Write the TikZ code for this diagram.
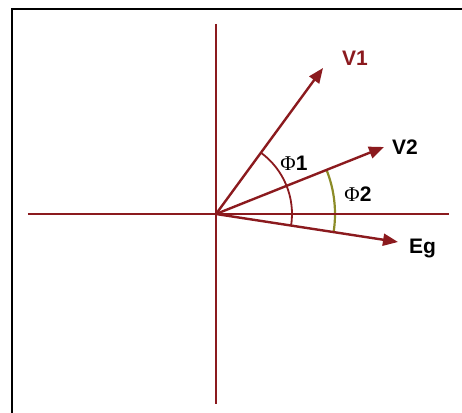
\documentclass[tikz,border=0pt]{standalone}
\usepackage{fontspec}
\setmainfont{Liberation Sans}
\newfontfamily\phifont{Liberation Serif}
\usetikzlibrary{arrows.meta, angles, positioning}
\definecolor{vecred}{RGB}{139,26,30}
\definecolor{phigreen}{RGB}{140,140,40}

\begin{document}
\begin{tikzpicture}[x=1pt, y=1pt, >={Triangle[length=15pt, width=12pt]}]
        \tikzstyle{axis} = [draw=vecred, line width=2.4pt]
        \tikzstyle{vec} = [draw=vecred, fill=vecred, line width=2.4pt, ->]
        \tikzstyle{lbl} = [font=\fontsize{21}{24}\selectfont\bfseries, inner sep=0pt]
        \tikzstyle{philbl} = [font=\fontsize{21}{24}\selectfont\bfseries, inner sep=0pt]

        \useasboundingbox (-216,-198) rectangle (246,214);
        \draw [line width=2pt] (-204,-199) -- (-204,205) -- (247,205);

        \coordinate (o) at (0,0);
        \coordinate (west) at (-188,0);
        \coordinate (east) at (233,0);
        \coordinate (north) at (0,190);
        \coordinate (south) at (0,-190);
        \coordinate (v1) at (107,146);
        \coordinate (v2) at (168,67);
        \coordinate (eg) at (182,-28);

        \pic [draw=vecred, line width=1.8pt, angle radius=76pt] {angle=eg--o--v1};
        \pic [draw=phigreen, line width=2.2pt, angle radius=119pt] {angle=eg--o--v2};

        \draw [axis] (west) -- (east);
        \draw [axis] (north) -- (south);
        \draw [vec] (o) -- (v1);
        \draw [vec] (o) -- (v2);
        \draw [vec] (o) -- (eg);

        \node [lbl, text=vecred] (v1lbl) at (139,156) {V1};
        \node [lbl, right=8pt of v2] (v2lbl) {V2};
        \node [lbl, right=11pt of eg, yshift=-6pt] (eglbl) {Eg};
        \node [philbl] (phi1) at (78,51) {{\phifont\mdseries Φ}1};
        \node [philbl] (phi2) at (142,20) {{\phifont\mdseries Φ}2};
    \end{tikzpicture}
\end{document}
